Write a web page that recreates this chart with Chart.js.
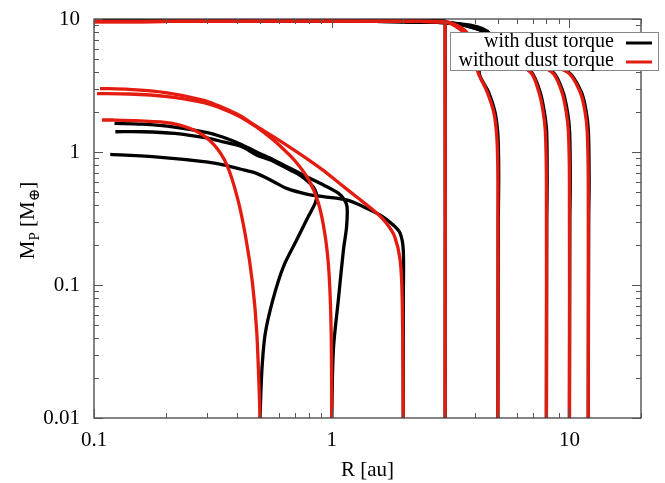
<!DOCTYPE html>
<html lang="en">
<head>
    <meta charset="UTF-8">
    <title>Planet tracks</title>
    <script src="https://cdn.jsdelivr.net/npm/chart.js"></script>
    <style>
        html, body { margin: 0; padding: 0; background: #fff; }
        #wrap { width: 665px; height: 483px; }
    </style>
</head>
<body>
    <div id="wrap"><canvas id="myChart" width="665" height="483"></canvas></div>

    <script>
        // tick labels
        const xTickLabels = [0.1, 1, 10];
        const yTickLabels = [0.01, 0.1, 1, 10];
        const legendLabels = ['with dust torque', 'without dust torque'];

        // with dust torque (black), R in au and M in earth masses
        const rBlack05 = [0.5, 0.503, 0.51, 0.525, 0.565, 0.626, 0.712, 0.797, 0.851, 0.865, 0.851, 0.81, 0.734, 0.668, 0.57, 0.483, 0.417, 0.35, 0.302, 0.218, 0.159, 0.123];
        const mBlack05 = [0.01, 0.015, 0.025, 0.043, 0.077, 0.137, 0.218, 0.327, 0.411, 0.46, 0.518, 0.582, 0.671, 0.732, 0.85, 0.95, 1.10, 1.19, 1.27, 1.38, 1.42, 1.42];
        const rBlack1 = [1.0, 1.016, 1.066, 1.12, 1.155, 1.16, 1.13, 1.066, 0.923, 0.784, 0.668, 0.57, 0.483, 0.412, 0.35, 0.30, 0.218, 0.159, 0.122];
        const mBlack1 = [0.01, 0.0325, 0.077, 0.183, 0.275, 0.388, 0.436, 0.49, 0.565, 0.652, 0.754, 0.871, 1.0, 1.15, 1.29, 1.40, 1.54, 1.62, 1.64];
        const rBlack2 = [2.0, 2.0, 2.0, 1.94, 1.815, 1.595, 1.358, 1.155, 0.923, 0.784, 0.646, 0.57, 0.483, 0.412, 0.35, 0.302, 0.186, 0.117];
        const mBlack2 = [0.01, 0.077, 0.183, 0.245, 0.283, 0.336, 0.388, 0.436, 0.461, 0.483, 0.533, 0.598, 0.691, 0.745, 0.80, 0.84, 0.915, 0.96];
        const rBlack3 = [3, 3, 2.98, 0.1];
        const mBlack3 = [0.01, 9.0, 9.75, 9.75];
        const rBlack5 = [5, 5.02, 5.04, 5.03, 4.99, 4.86, 4.56, 4.17, 4.6, 3.0, 0.1];
        const mBlack5 = [0.01, 0.3, 0.6, 1.0, 1.42, 2.0, 2.84, 4.0, 7.8, 9.4, 9.75];
        const rBlack8 = [8, 8.03, 8.06, 8.02, 7.84, 7.52, 6.9, 4.6, 3.0, 0.1];
        const mBlack8 = [0.01, 0.3, 0.6, 1.42, 2.01, 2.84, 4.02, 7.8, 9.4, 9.75];
        const rBlack10 = [10, 10.04, 10.08, 10.02, 9.81, 9.39, 8.48, 4.6, 3.0, 0.1];
        const mBlack10 = [0.01, 0.3, 0.6, 1.42, 2.01, 2.84, 4.02, 7.8, 9.4, 9.75];
        const rBlack12 = [12, 12.05, 12.1, 12.02, 11.77, 11.21, 9.85, 4.6, 3.0, 0.1];
        const mBlack12 = [0.01, 0.3, 0.6, 1.42, 2.01, 2.84, 4.02, 7.8, 9.4, 9.75];

        // without dust torque (red)
        const rRed05 = [0.5, 0.484, 0.464, 0.436, 0.402, 0.362, 0.32, 0.27, 0.211, 0.151, 0.12, 0.108];
        const mRed05 = [0.01, 0.0436, 0.104, 0.222, 0.446, 0.80, 1.13, 1.43, 1.65, 1.72, 1.74, 1.74];
        const rRed1 = [1.0, 0.995, 0.975, 0.94, 0.88, 0.80, 0.70, 0.61, 0.55, 0.48, 0.41, 0.35, 0.29, 0.2, 0.14, 0.103];
        const mRed1 = [0.01, 0.043, 0.12, 0.23, 0.41, 0.62, 0.86, 1.1, 1.29, 1.55, 1.85, 2.1, 2.35, 2.62, 2.73, 2.75];
        const rRed2 = [2.0, 1.98, 1.94, 1.84, 1.70, 1.55, 1.27, 1.08, 0.91, 0.78, 0.67, 0.57, 0.48, 0.41, 0.35, 0.29, 0.2, 0.14, 0.106];
        const mRed2 = [0.01, 0.077, 0.154, 0.231, 0.291, 0.346, 0.461, 0.58, 0.74, 0.9, 1.08, 1.3, 1.57, 1.88, 2.15, 2.45, 2.8, 2.96, 3.0];
        const rRed3 = [3, 3, 2.98, 0.1];
        const mRed3 = [0.01, 9.0, 9.6, 9.6];
        const rRed5 = [5, 5, 4.98, 4.93, 4.80, 4.50, 4.12, 3.75, 3.0, 0.1];
        const mRed5 = [0.01, 0.6, 1.0, 1.42, 2.0, 2.84, 4.0, 7.7, 9.5, 9.55];
        const rRed8 = [8, 8, 7.92, 7.75, 7.43, 6.82, 3.75, 3.0, 0.1];
        const mRed8 = [0.01, 0.6, 1.42, 2.01, 2.84, 4.02, 7.7, 9.5, 9.55];
        const rRed10 = [10, 10, 9.9, 9.69, 9.28, 8.38, 3.75, 3.0, 0.1];
        const mRed10 = [0.01, 0.6, 1.42, 2.01, 2.84, 4.02, 7.7, 9.5, 9.55];
        const rRed12 = [12, 12, 11.88, 11.63, 11.08, 9.73, 3.75, 3.0, 0.1];
        const mRed12 = [0.01, 0.6, 1.42, 2.01, 2.84, 4.02, 7.7, 9.5, 9.55];

        const black = '#000000';
        const red = 'rgb(228, 28, 16)';

        const blackTracks = [[rBlack05, mBlack05], [rBlack1, mBlack1], [rBlack2, mBlack2], [rBlack3, mBlack3],
            [rBlack5, mBlack5], [rBlack8, mBlack8], [rBlack10, mBlack10], [rBlack12, mBlack12]];
        const redTracks = [[rRed05, mRed05], [rRed1, mRed1], [rRed2, mRed2], [rRed3, mRed3],
            [rRed5, mRed5], [rRed8, mRed8], [rRed10, mRed10], [rRed12, mRed12]];

        function makeSet(track, color, order) {
            return {
                data: track[0].map((r, i) => ({ x: r, y: track[1][i] })),
                borderColor: color,
                backgroundColor: color,
                borderWidth: 3.3,
                pointRadius: 0,
                showLine: true,
                tension: 0.3,
                order: order
            };
        }

        const datasets = [];
        redTracks.forEach(t => datasets.push(makeSet(t, red, 1)));
        blackTracks.forEach(t => datasets.push(makeSet(t, black, 2)));

        const serif = "'Liberation Serif', 'DejaVu Serif', serif";

        function logLabel(v, wanted) {
            const lv = Math.log10(v);
            if (Math.abs(lv - Math.round(lv)) > 1e-6) return '';
            const val = Math.pow(10, Math.round(lv));
            const hit = wanted.find(w => Math.abs(w - val) / w < 1e-6);
            if (hit === undefined) return '';
            return hit >= 1 ? String(hit) : hit.toFixed(-Math.round(lv));
        }

        // frame, inward ticks, titles and legend
        const framePlugin = {
            id: 'frame',
            afterDraw(chart) {
                const c = chart.ctx;
                const a = chart.chartArea;
                const xs = chart.scales.x;
                const ys = chart.scales.y;
                c.save();
                c.strokeStyle = '#333';
                c.lineWidth = 1.2;
                c.strokeRect(a.left, a.top, a.right - a.left, a.bottom - a.top);

                c.strokeStyle = '#555';
                c.lineWidth = 1;
                c.beginPath();
                for (let d = -1; d <= 1; d++) {
                    for (let k = 1; k <= 9; k++) {
                        const v = k * Math.pow(10, d);
                        if (v < 0.1 || v > 20) continue;
                        const px = Math.round(xs.getPixelForValue(v)) + 0.5;
                        const len = k === 1 ? 9 : 5;
                        c.moveTo(px, a.bottom); c.lineTo(px, a.bottom - len);
                        c.moveTo(px, a.top); c.lineTo(px, a.top + len);
                    }
                }
                for (let d = -2; d <= 1; d++) {
                    for (let k = 1; k <= 9; k++) {
                        const v = k * Math.pow(10, d);
                        if (v < 0.01 || v > 10.0001) continue;
                        const py = Math.round(ys.getPixelForValue(v)) + 0.5;
                        const len = k === 1 ? 9 : 5;
                        c.moveTo(a.left, py); c.lineTo(a.left + len, py);
                        c.moveTo(a.right, py); c.lineTo(a.right - len, py);
                    }
                }
                c.stroke();

                // x title
                c.fillStyle = '#000';
                c.font = '21px ' + serif;
                c.textAlign = 'center';
                c.textBaseline = 'alphabetic';
                c.fillText('R [au]', (a.left + a.right) / 2, 476);

                // y title with subscripts
                const parts = [
                    { t: 'M', s: 21, dy: 0 },
                    { t: 'P', s: 15, dy: 5 },
                    { t: ' [M', s: 21, dy: 0 },
                    { t: '\u2295', s: 15, dy: 5 },
                    { t: ']', s: 21, dy: 0 }
                ];
                let total = 0;
                parts.forEach(p => { c.font = p.s + 'px ' + serif; p.w = c.measureText(p.t).width; total += p.w; });
                c.translate(34, (a.top + a.bottom) / 2 + 2);
                c.rotate(-Math.PI / 2);
                c.textAlign = 'left';
                let x0 = -total / 2;
                parts.forEach(p => {
                    c.font = p.s + 'px ' + serif;
                    c.fillText(p.t, x0, p.dy);
                    x0 += p.w;
                });
                c.setTransform(1, 0, 0, 1, 0, 0);

                // legend box
                const bx = 450, by = 32, bw = 208, bh = 38;
                c.fillStyle = '#fff';
                c.fillRect(bx, by, bw, bh);
                c.strokeStyle = '#888';
                c.lineWidth = 1;
                c.strokeRect(bx + 0.5, by + 0.5, bw, bh);
                c.font = '20px ' + serif;
                c.textAlign = 'right';
                c.textBaseline = 'middle';
                const rows = [[legendLabels[0], black, 42], [legendLabels[1], red, 61]];
                rows.forEach(r => {
                    c.fillStyle = '#000';
                    c.fillText(r[0], 614, r[2]);
                    c.strokeStyle = r[1];
                    c.lineWidth = 3;
                    c.beginPath();
                    c.moveTo(626, r[2] + 1);
                    c.lineTo(652, r[2] + 1);
                    c.stroke();
                });
                c.restore();
            }
        };

        const ctx = document.getElementById('myChart');
        new Chart(ctx, {
            type: 'scatter',
            data: { datasets: datasets },
            options: {
                responsive: false,
                animation: false,
                layout: { padding: { top: 19, right: 24, left: 0, bottom: 0 } },
                plugins: { legend: { display: false }, tooltip: { enabled: false } },
                scales: {
                    x: {
                        type: 'logarithmic',
                        min: 0.1,
                        max: 20,
                        grid: { display: false, drawTicks: false },
                        border: { display: false },
                        ticks: {
                            autoSkip: false,
                            maxRotation: 0,
                            padding: 10,
                            color: '#000',
                            font: { family: serif, size: 21 },
                            callback: v => logLabel(v, xTickLabels)
                        },
                        afterFit: s => { s.height = 65; s.paddingLeft = 0; s.paddingRight = 0; }
                    },
                    y: {
                        type: 'logarithmic',
                        min: 0.01,
                        max: 10,
                        grid: { display: false, drawTicks: false },
                        border: { display: false },
                        ticks: {
                            autoSkip: false,
                            padding: 14,
                            color: '#000',
                            font: { family: serif, size: 21 },
                            callback: v => logLabel(v, yTickLabels)
                        },
                        afterFit: s => { s.width = 94; s.paddingTop = 0; s.paddingBottom = 0; }
                    }
                }
            },
            plugins: [framePlugin]
        });
    </script>
</body>
</html>
